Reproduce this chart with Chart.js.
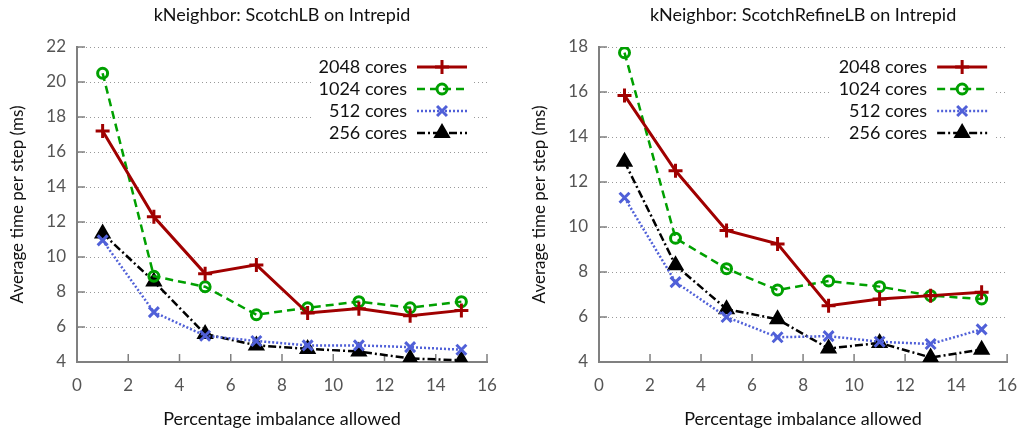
<!DOCTYPE html>
<html>
<head>
<meta charset="utf-8">
<script src="https://cdn.jsdelivr.net/npm/chart.js@4.4.0/dist/chart.umd.min.js"></script>
<style>
  body { margin: 0; background: #fff; }
  .box { position: absolute; top: 0; width: 511px; height: 432px; }
</style>
</head>
<body>
<div class="box" style="left:0"><canvas id="leftChart" width="511" height="432"></canvas></div>
<div class="box" style="left:511px"><canvas id="rightChart" width="511" height="432"></canvas></div>
<script>
// data
const imbalance = [1, 3, 5, 7, 9, 11, 13, 15];
const seriesNames = ['2048 cores', '1024 cores', '512 cores', '256 cores'];

const scotch2048 = [17.2, 12.3, 9.05, 9.55, 6.8, 7.05, 6.65, 6.95];
const scotch1024 = [20.5, 8.9, 8.3, 6.7, 7.1, 7.45, 7.1, 7.45];
const scotch512  = [10.95, 6.85, 5.5, 5.2, 4.95, 4.95, 4.85, 4.7];
const scotch256  = [11.35, 8.6, 5.6, 4.95, 4.75, 4.6, 4.2, 4.1];

const refine2048 = [15.85, 12.5, 9.85, 9.25, 6.5, 6.8, 6.95, 7.1];
const refine1024 = [17.75, 9.5, 8.15, 7.2, 7.6, 7.35, 6.95, 6.8];
const refine512  = [11.3, 7.55, 6.0, 5.1, 5.15, 4.9, 4.8, 5.45];
const refine256  = [12.9, 8.3, 6.35, 5.9, 4.6, 4.85, 4.2, 4.55];

const FONT = 'Lato';

// line look per series: colour, dash, marker
const looks = [
  { color: '#a00000', dash: [], point: 'cross', radius: 7, width: 3, fill: false },
  { color: '#00a000', dash: [8, 5], point: 'circle', radius: 5, width: 2.5, fill: false },
  { color: '#5060d8', dash: [2, 2], point: 'crossRot', radius: 7, width: 2.5, fill: false },
  { color: '#000000', dash: [8, 3, 2, 3], point: 'triangle', radius: 7, width: 2.5, fill: true }
];

function makeDatasets(seriesList) {
  return seriesList.map((vals, i) => {
    const lk = looks[i];
    return {
      label: seriesNames[i],
      data: imbalance.map((x, j) => ({ x: x, y: vals[j] })),
      borderColor: lk.color,
      backgroundColor: lk.fill ? lk.color : 'rgba(0,0,0,0)',
      borderWidth: lk.width,
      borderDash: lk.dash,
      pointStyle: lk.point,
      pointRadius: lk.radius,
      pointBorderWidth: 3,
      pointBackgroundColor: lk.fill ? lk.color : 'rgba(0,0,0,0)',
      pointBorderColor: lk.color,
      tension: 0
    };
  });
}

// title, inward ticks and the boxed key inside the plot
const gnuplotDecor = {
  id: 'gnuplotDecor',
  beforeDatasetsDraw(chart, args, opts) {
    const { ctx, chartArea: a, scales } = chart;
    ctx.save();
    ctx.strokeStyle = '#808080';
    ctx.lineWidth = 1.5;
    ctx.beginPath();
    scales.x.ticks.forEach(t => {
      const px = scales.x.getPixelForValue(t.value);
      ctx.moveTo(px, a.bottom);
      ctx.lineTo(px, a.bottom - 8);
    });
    scales.y.ticks.forEach(t => {
      const py = scales.y.getPixelForValue(t.value);
      ctx.moveTo(a.left, py);
      ctx.lineTo(a.left + 8, py);
    });
    ctx.stroke();

    // white key box
    ctx.fillStyle = '#fff';
    ctx.fillRect(a.right - 176, a.top + 8, 162, 90);
    ctx.restore();
  },
  afterDatasetsDraw(chart, args, opts) {
    const { ctx, chartArea: a } = chart;
    ctx.save();
    ctx.fillStyle = '#111';
    ctx.font = '18px ' + FONT;
    ctx.textAlign = 'center';
    ctx.textBaseline = 'middle';
    ctx.fillText(opts.title, (a.left + a.right) / 2, 15);

    chart.data.datasets.forEach((ds, i) => {
      const y = a.top + 20 + i * 22;
      ctx.fillStyle = '#111';
      ctx.textAlign = 'right';
      ctx.font = '18px ' + FONT;
      ctx.fillText(ds.label, a.right - 80, y);
      ctx.strokeStyle = ds.borderColor;
      ctx.lineWidth = ds.borderWidth;
      ctx.setLineDash(ds.borderDash);
      ctx.beginPath();
      ctx.moveTo(a.right - 70, y);
      ctx.lineTo(a.right - 20, y);
      ctx.stroke();
      ctx.setLineDash([]);
      ctx.lineWidth = ds.pointBorderWidth;
      ctx.fillStyle = ds.pointBackgroundColor;
      ctx.strokeStyle = ds.pointBorderColor;
      Chart.helpers.drawPoint(ctx, {
        pointStyle: ds.pointStyle,
        radius: ds.pointRadius,
        borderWidth: ds.pointBorderWidth
      }, a.right - 45, y);
    });
    ctx.restore();
  }
};

function buildChart(canvasId, title, seriesList, yMax, yAxisWidth, rightPad, yTitlePad) {
  Chart.defaults.font.family = FONT;
  return new Chart(document.getElementById(canvasId), {
    type: 'line',
    data: { datasets: makeDatasets(seriesList) },
    options: {
      responsive: false,
      animation: false,
      layout: { padding: { top: 47, right: rightPad, left: 0, bottom: 0 } },
      scales: {
        x: {
          type: 'linear', min: 0, max: 16,
          ticks: { stepSize: 2, color: '#555', font: { size: 17 }, padding: 5 },
          grid: { display: false },
          border: { display: true, color: '#808080', width: 2 },
          title: { display: true, text: 'Percentage imbalance allowed', color: '#111', font: { size: 18 }, padding: { top: 4, bottom: 2 } },
          afterFit(scale) { scale.height = 70; }
        },
        y: {
          min: 4, max: yMax,
          ticks: { stepSize: 2, color: '#555', font: { size: 17 }, padding: 11 },
          grid: { color: '#999', lineWidth: 1, drawTicks: false },
          border: { display: true, color: '#808080', width: 2, dash: [1, 3] },
          title: { display: true, text: 'Average time per step (ms)', color: '#111', font: { size: 17 }, padding: { top: yTitlePad, bottom: 0 } },
          afterFit(scale) { scale.width = yAxisWidth; }
        }
      },
      plugins: {
        legend: { display: false },
        tooltip: { enabled: false },
        gnuplotDecor: { title: title }
      }
    },
    plugins: [gnuplotDecor]
  });
}

buildChart('leftChart', 'kNeighbor: ScotchLB on Intrepid',
  [scotch2048, scotch1024, scotch512, scotch256], 22, 77, 24, 7);
buildChart('rightChart', 'kNeighbor: ScotchRefineLB on Intrepid',
  [refine2048, refine1024, refine512, refine256], 18, 88, 13, 18);
</script>
</body>
</html>
